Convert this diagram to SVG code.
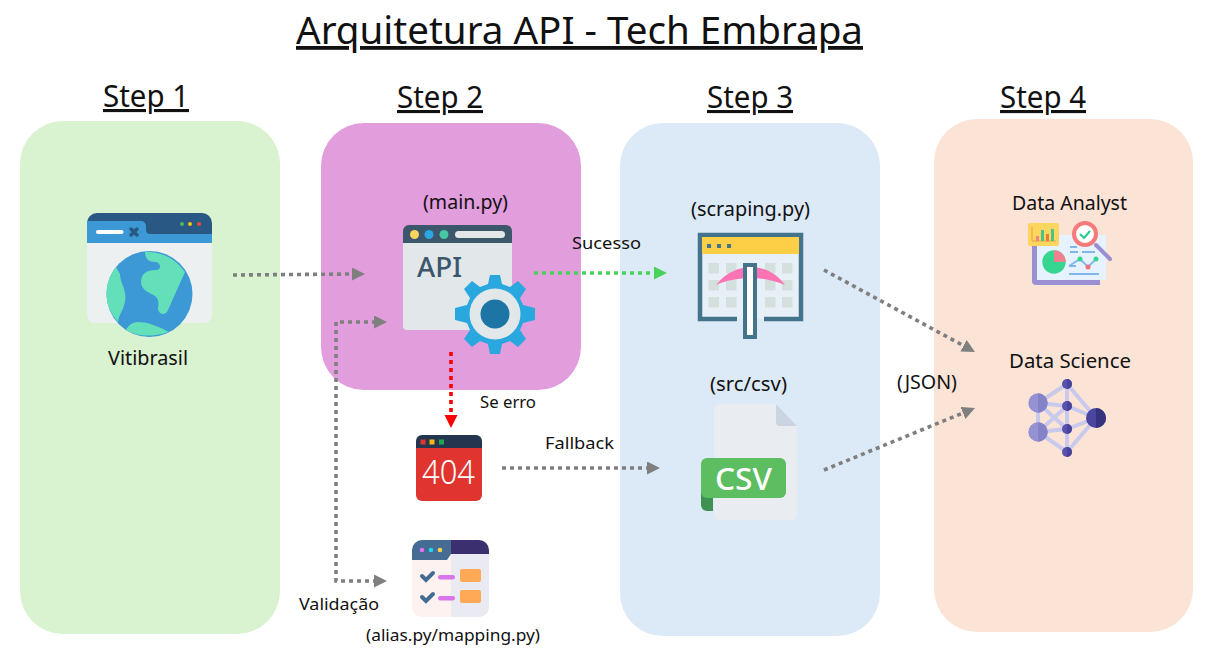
<svg xmlns="http://www.w3.org/2000/svg" width="1206" height="648" viewBox="0 0 1206 648">
<style>
text{font-family:"Noto Sans","Liberation Sans",sans-serif;fill:#111}
.title{font-size:38px;text-decoration:underline;text-decoration-thickness:2px}
.step{font-size:31px;text-decoration:underline;text-decoration-thickness:2px}
.lbl{font-size:19.5px}
.sm{font-size:16.5px}
.c{fill:none;stroke-width:3.6;stroke-dasharray:4 4}
.g{stroke:#7f7f7f}
.cell{fill:#d3e0dd}
.link{fill:none;stroke:#c8c9ec;stroke-width:4}
</style>
<defs>
<marker id="ag" markerUnits="userSpaceOnUse" markerWidth="14" markerHeight="14" refX="2" refY="6.5" orient="auto-start-reverse"><path d="M0 0L13 6.500L0 13Z" fill="#7f7f7f"/></marker>
<marker id="ae" markerUnits="userSpaceOnUse" markerWidth="14" markerHeight="14" refX="2" refY="6.5" orient="auto"><path d="M0 0L13 6.500L0 13Z" fill="#47d359"/></marker>
<marker id="ar" markerUnits="userSpaceOnUse" markerWidth="14" markerHeight="14" refX="2" refY="6.5" orient="auto"><path d="M0 0L13 6.500L0 13Z" fill="#f00"/></marker>
</defs>
<rect width="1206" height="648" fill="#fff"/>
<g id="panels">
<rect x="20" y="121" width="260" height="513" rx="43" fill="#d9f2d0"/>
<rect x="321" y="123" width="260" height="267" rx="43" fill="#e29ddd"/>
<rect x="620" y="123" width="260" height="513" rx="43" fill="#dce9f7"/>
<rect x="934" y="119" width="259" height="513" rx="43" fill="#fbe3d6"/>
</g>
<g id="titles">
<text class="title" x="296" y="44" textLength="567" lengthAdjust="spacingAndGlyphs">Arquitetura API - Tech Embrapa</text>
<text class="step" x="103" y="107" textLength="86" lengthAdjust="spacingAndGlyphs">Step 1</text>
<text class="step" x="397" y="108" textLength="86" lengthAdjust="spacingAndGlyphs">Step 2</text>
<text class="step" x="707" y="108" textLength="86" lengthAdjust="spacingAndGlyphs">Step 3</text>
<text class="step" x="1000" y="108" textLength="86" lengthAdjust="spacingAndGlyphs">Step 4</text>
</g>
<g id="connectors">
<path class="c g" d="M233 275L354 274" marker-end="url(#ag)"/>
<path class="c" stroke="#47d359" d="M534 273L656 273" marker-end="url(#ae)"/>
<path class="c" stroke="#f00" d="M451 352L451 417" marker-end="url(#ar)"/>
<path class="c g" d="M502 468L649 468" marker-end="url(#ag)"/>
<path class="c g" d="M376 322L336 322L336 581L376 581" marker-start="url(#ag)" marker-end="url(#ag)"/>
<path class="c g" d="M824 270L965.300 346.700" marker-end="url(#ag)"/>
<path class="c g" d="M824 470L964.800 412.200" marker-end="url(#ag)"/>
</g>
<g id="vitibrasil">
<path d="M87 223a10 10 0 0 1 10-10h105a10 10 0 0 1 10 10v20H87Z" fill="#2a5885"/>
<path d="M87 221h54a5 5 0 0 1 5 5v4a4 4 0 0 0 4 4h62v9H87Z" fill="#3d98d6"/>
<path d="M87 243h125v72a8 8 0 0 1-8 8H95a8 8 0 0 1-8-8Z" fill="#ecf0f1"/>
<rect x="96" y="230" width="27.500" height="4" rx="2" fill="#fff"/>
<path d="M131 229L137 235M137 229L131 235" stroke="#2a5885" stroke-width="3.500" stroke-linecap="round"/>
<circle cx="182" cy="224" r="2" fill="#4fb85f"/><circle cx="190" cy="224" r="2" fill="#f2c511"/><circle cx="199" cy="224" r="2" fill="#e74c3c"/>
<circle cx="149.500" cy="294" r="43" fill="#3d98d6"/>
<path d="M145 251.500C145 258 148 262 155 262C161 262 162 270 156 270C146 270 141 274 141 282C141 290 150 293 155 296C160 300 158 306 158 309C159 315 166 316 168 310L185 272C175 258 162 252 145 251.500ZM116 267C109 276 106.500 285 106.500 294C106.500 304 110 313 118 322C119 314 125 308 125.500 298C125.500 288 120 282 120 274ZM126 330C136 336 150 338 169 332C160 327 148 322 138 322C132 322 128 326 126 330Z" fill="#63dfba"/>
</g>
<g id="api">
<path d="M403 231a6 6 0 0 1 6-6h97a6 6 0 0 1 6 6v12H403Z" fill="#3c566b"/>
<path d="M403 243h109v83a4 4 0 0 1-4 4H407a4 4 0 0 1-4-4Z" fill="#e2e7ea"/>
<circle cx="414.500" cy="234.500" r="4.500" fill="#fdd35b"/><circle cx="429" cy="234.500" r="4.500" fill="#29a7df"/><circle cx="444" cy="234.500" r="4.500" fill="#45c8a3"/>
<rect x="455" y="231" width="50" height="7" rx="3.500" fill="#e2e7ea"/>
<text x="417" y="277" font-size="26.500" font-weight="500" style="fill:#3c566b" textLength="45" lengthAdjust="spacingAndGlyphs">API</text>
<path d="M490 275H500L502 284L510 287L518 281L526 289L520 298L523 305L535 308V320L523 323L520 330L526 339L518 347L510 341L502 344L500 354H490L488 344L480 341L472 347L464 339L470 330L467 323L455 320V308L467 305L470 298L464 289L472 281L480 287L488 284Z" fill="#29a7df"/>
<circle cx="495" cy="314" r="25.500" fill="#e2e7ea"/><circle cx="495" cy="314" r="14.500" fill="#1c75a5"/>
</g>
<g id="scraping">
<path d="M737 319H700V235H801V319H764" fill="#e8f0f7" stroke="#44748c" stroke-width="4.500"/>
<rect x="702" y="237" width="97" height="17" fill="#fdcf47"/>
<rect x="707" y="244" width="4" height="4" fill="#44748c"/><rect x="717" y="244" width="4" height="4" fill="#44748c"/><rect x="727" y="244" width="4" height="4" fill="#44748c"/>
<g class="cell">
<rect x="708.500" y="263" width="10.500" height="10.500"/><rect x="726" y="263" width="10.500" height="10.500"/><rect x="765" y="263" width="10.500" height="10.500"/><rect x="782" y="263" width="10.500" height="10.500"/>
<rect x="708.500" y="280" width="10.500" height="10.500"/><rect x="726" y="280" width="10.500" height="10.500"/><rect x="765" y="280" width="10.500" height="10.500"/><rect x="782" y="280" width="10.500" height="10.500"/>
<rect x="708.500" y="297" width="10.500" height="10.500"/><rect x="726" y="297" width="10.500" height="10.500"/><rect x="765" y="297" width="10.500" height="10.500"/><rect x="782" y="297" width="10.500" height="10.500"/>
</g>
<path d="M716 285C726 272 740 267 751 267C762 267 776 272 785 285C773 280 762 278 751 278C740 278 727 280 716 285Z" fill="#fc74b4"/>
<rect x="745" y="265" width="10" height="72" fill="#fff" stroke="#44748c" stroke-width="4"/>
</g>
<g id="csv">
<path d="M720 404H776L797 426V514a6 6 0 0 1-6 6H720a6 6 0 0 1-6-6V410a6 6 0 0 1 6-6Z" fill="#e9edf1"/>
<path d="M776 404L797 426H780a4 4 0 0 1-4-4Z" fill="#cbd5e1"/>
<path d="M701 490V505a6 6 0 0 0 6 6h6V498Z" fill="#3e9150"/>
<rect x="701" y="458" width="85" height="40" rx="6" fill="#5cbd61"/>
<text x="715" y="490" font-size="31" font-weight="500" style="fill:#fff" textLength="57" lengthAdjust="spacingAndGlyphs">CSV</text>
</g>
<g id="e404">
<path d="M416 441a6 6 0 0 1 6-6h54a6 6 0 0 1 6 6v7H416Z" fill="#24364f"/>
<path d="M416 448h66v47a6 6 0 0 1-6 6h-54a6 6 0 0 1-6-6Z" fill="#e0342e"/>
<rect x="420.500" y="439.500" width="5" height="5" fill="#e0342e"/><rect x="429.500" y="439.500" width="5" height="5" fill="#f2b90f"/><rect x="439" y="439.500" width="5" height="5" fill="#22a84a"/>
<text x="422" y="484" font-size="33" font-weight="300" style="fill:#fff" textLength="53" lengthAdjust="spacingAndGlyphs">404</text>
</g>
<g id="mapping">
<path d="M412 555H489V607a10 10 0 0 1-10 10H422a10 10 0 0 1-10-10Z" fill="#fdf2f0"/>
<path d="M451 554H489V607a10 10 0 0 1-10 10H451Z" fill="#eaeaf2"/>
<path d="M412 560V550a10 10 0 0 1 10-10H451V554L447 560Z" fill="#456c93"/>
<path d="M451 540H479a10 10 0 0 1 10 10V554H451Z" fill="#3c2f70"/>
<circle cx="422" cy="550" r="2.300" fill="#e46ef0"/><circle cx="431" cy="550" r="2.300" fill="#1fd6ea"/><circle cx="440" cy="550" r="2.300" fill="#fbd04a"/>
<path d="M422 576L426 580L433 573M422 597L426 601L433 594" fill="none" stroke="#456c93" stroke-width="4" stroke-linecap="round"/>
<rect x="438" y="575" width="17" height="4.500" rx="2.200" fill="#da75eb"/><rect x="438" y="596" width="17" height="4.500" rx="2.200" fill="#da75eb"/>
<rect x="460" y="569" width="21" height="13" rx="2" fill="#fea955"/><rect x="460" y="590" width="21" height="13" rx="2" fill="#fea955"/>
</g>
<g id="analyst">
<path d="M1032 245H1100V285H1036a4 4 0 0 1-4-4Z" fill="#9a8fd2"/>
<rect x="1037" y="235" width="69" height="45" fill="#e6f2fd"/>
<rect x="1028" y="223" width="31" height="23" rx="2" fill="#fdd65f"/>
<path d="M1032 227V241H1056" fill="none" stroke="#e8a23f" stroke-width="1"/>
<rect x="1036" y="236" width="3" height="5" fill="#f0827f"/><rect x="1041" y="230" width="3" height="11" fill="#49c586"/><rect x="1046" y="234" width="3" height="7" fill="#ef7b3a"/><rect x="1051" y="229" width="3" height="12" fill="#49c586"/>
<circle cx="1054" cy="262" r="11.700" fill="#35d68f"/>
<path d="M1054 250.300A11.700 11.700 0 0 1 1065.700 262H1054Z" fill="#f27f8e"/>
<path d="M1070 247H1077M1070 252H1078M1082 252H1095M1069 266H1076M1069 274H1099" stroke="#82b6ea" stroke-width="1.800" fill="none"/>
<path d="M1069 266L1080 259L1088 267L1096 259" stroke="#82b6ea" stroke-width="1.800" fill="none"/>
<circle cx="1080" cy="259" r="2.500" fill="#35d68f"/><circle cx="1088" cy="267" r="2.500" fill="#f2707c"/><circle cx="1096" cy="259" r="2.500" fill="#35d68f"/>
<path d="M1096 245L1110 259" stroke="#9a8fd2" stroke-width="4" stroke-linecap="round"/>
<circle cx="1085" cy="234" r="11" fill="#fff" stroke="#f57a7a" stroke-width="4"/>
<path d="M1080 234L1084 238L1090 231" fill="none" stroke="#2ecc8f" stroke-width="2.200"/>
</g>
<g id="science">
<path class="link" d="M1038 403L1067 384L1067 452L1038 432L1067 429L1096 418L1067 452M1038 403L1067 406L1096 418L1067 384M1038 403L1067 429M1038 403L1038 432L1067 406"/>
<circle cx="1038" cy="403" r="9.700" fill="#9592d4"/><circle cx="1038" cy="432" r="9.700" fill="#9592d4"/>
<path d="M1038 393.300a9.700 9.700 0 0 1 0 19.400ZM1038 422.300a9.700 9.700 0 0 1 0 19.400Z" fill="#8583c8"/>
<circle cx="1067" cy="384" r="5" fill="#5753ad"/><circle cx="1067" cy="406" r="5" fill="#5753ad"/><circle cx="1067" cy="429" r="5" fill="#5753ad"/><circle cx="1067" cy="452" r="5" fill="#5753ad"/>
<path d="M1067 379a5 5 0 0 1 0 10ZM1067 401a5 5 0 0 1 0 10ZM1067 424a5 5 0 0 1 0 10ZM1067 447a5 5 0 0 1 0 10Z" fill="#48449c"/>
<circle cx="1096" cy="418" r="10" fill="#4a46a0"/>
<path d="M1096 408a10 10 0 0 1 0 20Z" fill="#37327e"/>
</g>
<g id="labels">
<text class="lbl" x="108" y="365" textLength="80" lengthAdjust="spacingAndGlyphs">Vitibrasil</text>
<text class="lbl" x="423" y="209" textLength="85" lengthAdjust="spacingAndGlyphs">(main.py)</text>
<text class="sm" x="572" y="249" textLength="69" lengthAdjust="spacingAndGlyphs">Sucesso</text>
<text class="lbl" x="691" y="216" textLength="119" lengthAdjust="spacingAndGlyphs">(scraping.py)</text>
<text class="lbl" x="710" y="391" textLength="77" lengthAdjust="spacingAndGlyphs">(src/csv)</text>
<text class="lbl" x="897" y="389" textLength="60" lengthAdjust="spacingAndGlyphs">(JSON)</text>
<text class="lbl" x="1012" y="210" textLength="115" lengthAdjust="spacingAndGlyphs">Data Analyst</text>
<text class="lbl" x="1009" y="368" textLength="122" lengthAdjust="spacingAndGlyphs">Data Science</text>
<text class="sm" x="480" y="408" textLength="56" lengthAdjust="spacingAndGlyphs">Se erro</text>
<text class="sm" x="545" y="449" textLength="69" lengthAdjust="spacingAndGlyphs">Fallback</text>
<text class="sm" x="299" y="610" textLength="80" lengthAdjust="spacingAndGlyphs">Validação</text>
<text class="sm" x="366" y="641" textLength="174" lengthAdjust="spacingAndGlyphs">(alias.py/mapping.py)</text>
</g>
</svg>
